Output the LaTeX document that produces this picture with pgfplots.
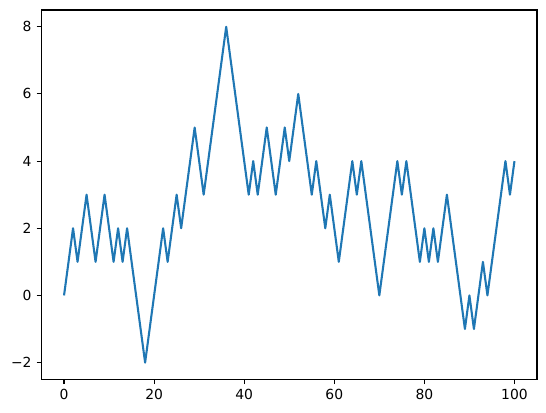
\documentclass[border=0pt]{standalone}
\usepackage{fontspec}
\setmainfont{DejaVu Sans}
\usepackage{pgfplots}
\pgfplotsset{compat=1.18}
\definecolor{mplblue}{HTML}{1F77B4}

\begin{document}
\begin{tikzpicture}
\begin{axis}[
    scale only axis,
    width=356.8pt,
    height=266pt,
    xmin=-5, xmax=105,
    ymin=-2.5, ymax=8.5,
    axis line style={line width=0.8pt},
    tick align=outside,
    xtick pos=left, ytick pos=left,
    major tick length=3.5pt,
    every tick/.style={black, line width=0.8pt},
    xtick={0,20,40,60,80,100},
    xticklabels={0,20,40,60,80,100},
    ytick={-2,0,2,4,6,8},
    yticklabels={−2,0,2,4,6,8},
    tick label style={font=\fontsize{10}{12}\selectfont, inner sep=0pt},
    xticklabel style={yshift=-3.5pt},
    yticklabel style={xshift=-3.5pt},
]
\addplot[mplblue, line width=1.5pt, line join=round] coordinates {
(0,0) (1,1) (2,2) (3,1) (4,2) (5,3) (6,2) (7,1) (8,2) (9,3)
(10,2) (11,1) (12,2) (13,1) (14,2) (15,1) (16,0) (17,-1) (18,-2) (19,-1)
(20,0) (21,1) (22,2) (23,1) (24,2) (25,3) (26,2) (27,3) (28,4) (29,5)
(30,4) (31,3) (32,4) (33,5) (34,6) (35,7) (36,8) (37,7) (38,6) (39,5)
(40,4) (41,3) (42,4) (43,3) (44,4) (45,5) (46,4) (47,3) (48,4) (49,5)
(50,4) (51,5) (52,6) (53,5) (54,4) (55,3) (56,4) (57,3) (58,2) (59,3)
(60,2) (61,1) (62,2) (63,3) (64,4) (65,3) (66,4) (67,3) (68,2) (69,1)
(70,0) (71,1) (72,2) (73,3) (74,4) (75,3) (76,4) (77,3) (78,2) (79,1)
(80,2) (81,1) (82,2) (83,1) (84,2) (85,3) (86,2) (87,1) (88,0) (89,-1)
(90,0) (91,-1) (92,0) (93,1) (94,0) (95,1) (96,2) (97,3) (98,4) (99,3)
(100,4)
};
\end{axis}
\useasboundingbox ([xshift=-29.9pt,yshift=-24.1pt]current axis.south west)
    rectangle ([xshift=6.5pt,yshift=7.2pt]current axis.north east);
\end{tikzpicture}
\end{document}
